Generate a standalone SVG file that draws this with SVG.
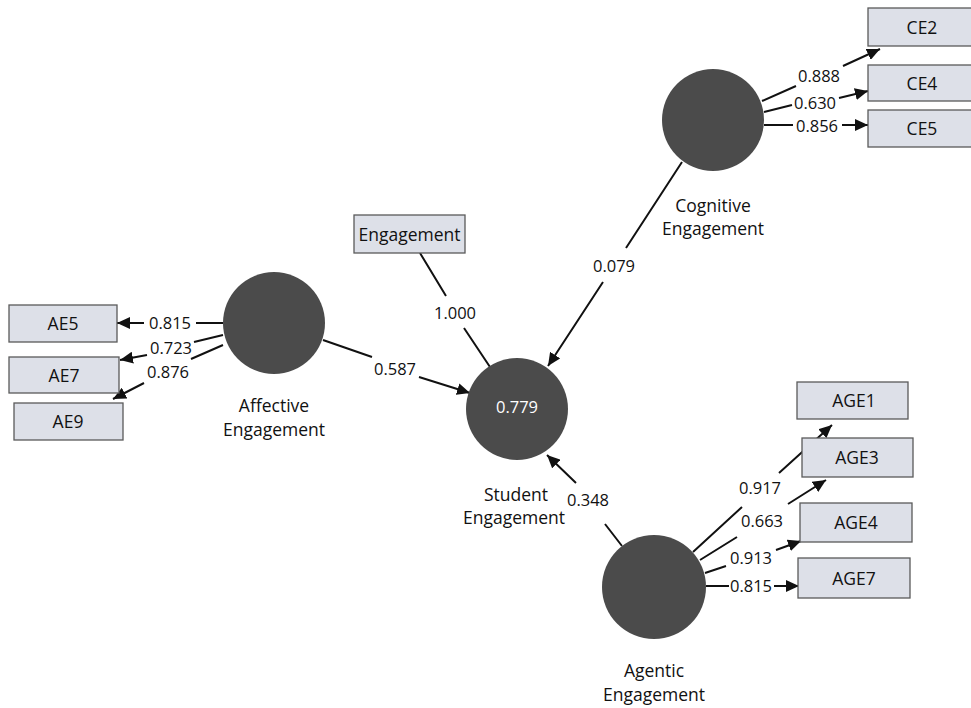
<svg xmlns="http://www.w3.org/2000/svg" width="971" height="708" viewBox="0 0 971 708">
  <style>
    .ind { fill: #dde0e8; stroke: #5a5a5a; stroke-width: 1.3; }
    .lat { fill: #4b4b4b; }
    .t { font-family: "Open Sans", "Noto Sans", "DejaVu Sans", sans-serif; font-size: 16.5px; fill: #111; text-anchor: middle; dominant-baseline: central; }
    .lbl { font-size: 17.5px; }
    .box { font-size: 17.5px; }
    .w { fill: #ffffff; }
    .c { fill: none; stroke: #111; stroke-width: 2; }
    .a { marker-end: url(#arr); }
  </style>
  <defs>
    <marker id="arr" markerUnits="userSpaceOnUse" markerWidth="14" markerHeight="12" refX="13" refY="6" orient="auto">
      <path d="M0,0 L13,6 L0,12 Z" fill="#111"/>
    </marker>
  </defs>
  <rect width="971" height="708" fill="#ffffff"/>

  <!-- connectors -->
  <g id="connectors">
    <!-- Cognitive Engagement indicators -->
    <path class="c a" d="M762,101 L796,86 M843,66 L880,49"/>
    <path class="c a" d="M764,112 L792,105 M839,98 L868,91"/>
    <path class="c a" d="M764,125 L793,125 M842,125 L868,125"/>
    <!-- Affective Engagement indicators -->
    <path class="c a" d="M223,323 L196,323 M144,323 L117,323"/>
    <path class="c a" d="M223,335 L194,342 M147,355 L120,360"/>
    <path class="c a" d="M223,345 L191,359 M144,383 L113,399"/>
    <!-- Agentic Engagement indicators -->
    <path class="c a" d="M693,552 L742,507 M779,473 L832,425"/>
    <path class="c a" d="M700,560 L737,537 M788,504 L826,480"/>
    <path class="c a" d="M705,573 L726,566 M776,550 L801,541"/>
    <path class="c a" d="M706,586 L729,586 M774,586 L799,586"/>
    <!-- Structural paths -->
    <path class="c" d="M420,253 L446,296 M464,328 L490,367"/>
    <path class="c a" d="M323,340 L372,357 M419,377 L470,393"/>
    <path class="c a" d="M682,162 L626,248 M603,282 L548,366"/>
    <path class="c a" d="M622,546 L605,524 M576,483 L547,455"/>
  </g>

  <!-- path coefficients -->
  <g id="coefficients">
    <text class="t" x="819" y="75">0.888</text>
    <text class="t" x="815" y="102">0.630</text>
    <text class="t" x="817" y="125">0.856</text>
    <text class="t" x="170" y="322">0.815</text>
    <text class="t" x="171" y="347">0.723</text>
    <text class="t" x="168" y="371">0.876</text>
    <text class="t" x="760" y="487">0.917</text>
    <text class="t" x="762" y="520">0.663</text>
    <text class="t" x="751" y="557">0.913</text>
    <text class="t" x="751" y="585">0.815</text>
    <text class="t" x="455" y="312">1.000</text>
    <text class="t" x="395" y="368">0.587</text>
    <text class="t" x="614" y="265">0.079</text>
    <text class="t" x="588" y="499">0.348</text>
  </g>

  <!-- latent constructs -->
  <g id="cognitive">
    <circle class="lat" cx="713" cy="120" r="51"/>
    <text class="t lbl" x="713" y="205">Cognitive</text>
    <text class="t lbl" x="713" y="228">Engagement</text>
  </g>
  <g id="affective">
    <circle class="lat" cx="274" cy="323" r="51"/>
    <text class="t lbl" x="274" y="405">Affective</text>
    <text class="t lbl" x="274" y="429">Engagement</text>
  </g>
  <g id="student">
    <circle class="lat" cx="517" cy="409" r="51"/>
    <text class="t w" x="517" y="406">0.779</text>
    <text class="t lbl" x="516" y="494">Student</text>
    <text class="t lbl" x="514" y="517">Engagement</text>
  </g>
  <g id="agentic">
    <circle class="lat" cx="654" cy="587" r="52"/>
    <text class="t lbl" x="654" y="670">Agentic</text>
    <text class="t lbl" x="654" y="694">Engagement</text>
  </g>

  <!-- indicators -->
  <g id="engagement">
    <rect class="ind" x="354" y="215" width="111" height="38"/>
    <text class="t box" x="409.5" y="234">Engagement</text>
  </g>
  <g id="ce2">
    <rect class="ind" x="868" y="8" width="110" height="38"/>
    <text class="t box" x="922" y="27">CE2</text>
  </g>
  <g id="ce4">
    <rect class="ind" x="868" y="65" width="110" height="36"/>
    <text class="t box" x="922" y="83">CE4</text>
  </g>
  <g id="ce5">
    <rect class="ind" x="868" y="110" width="110" height="37"/>
    <text class="t box" x="922" y="128">CE5</text>
  </g>
  <g id="ae5">
    <rect class="ind" x="9" y="305" width="108" height="37"/>
    <text class="t box" x="63" y="323">AE5</text>
  </g>
  <g id="ae7">
    <rect class="ind" x="9" y="357" width="110" height="36"/>
    <text class="t box" x="64" y="375">AE7</text>
  </g>
  <g id="ae9">
    <rect class="ind" x="14" y="403" width="109" height="37"/>
    <text class="t box" x="68" y="421">AE9</text>
  </g>
  <g id="age1">
    <rect class="ind" x="797" y="382" width="111" height="37"/>
    <text class="t box" x="854" y="400">AGE1</text>
  </g>
  <g id="age3">
    <rect class="ind" x="802" y="438" width="111" height="39"/>
    <text class="t box" x="857" y="457">AGE3</text>
  </g>
  <g id="age4">
    <rect class="ind" x="800" y="503" width="112" height="39"/>
    <text class="t box" x="856" y="522">AGE4</text>
  </g>
  <g id="age7">
    <rect class="ind" x="798" y="558" width="112" height="40"/>
    <text class="t box" x="854" y="578">AGE7</text>
  </g>
</svg>
